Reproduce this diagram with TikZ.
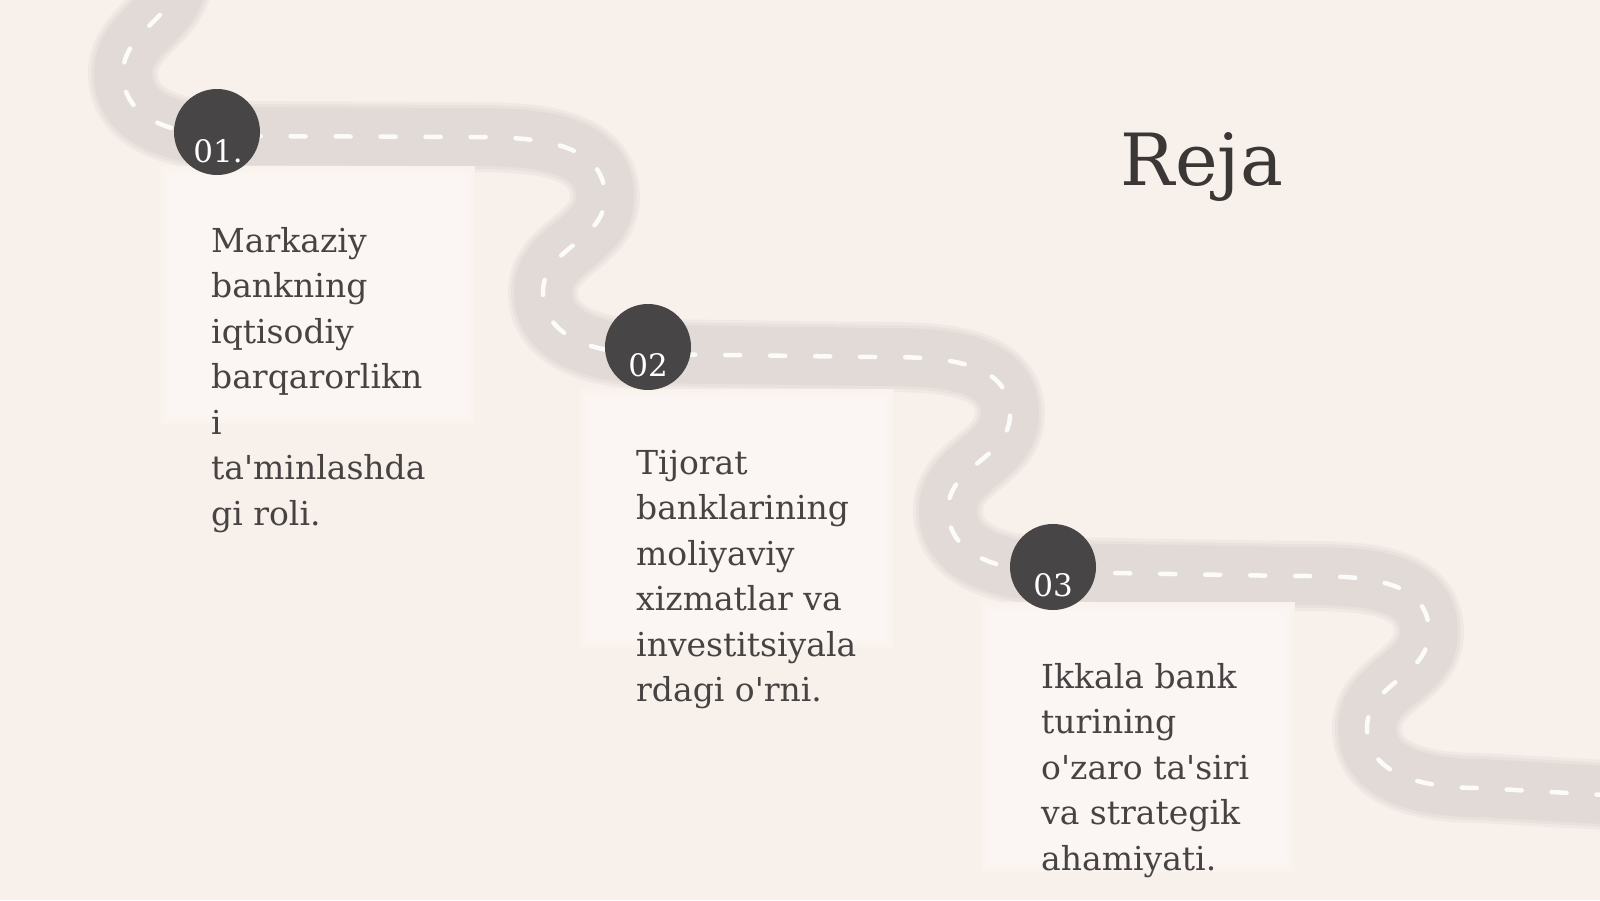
\documentclass[tikz,border=0pt]{standalone}
\usepackage{fontspec}
\newfontfamily\bodyfont[Ligatures=TeXOff]{DejaVu Serif}
\definecolor{bg}{HTML}{F8F0EB}
\definecolor{roadc}{HTML}{E2DAD6}
\definecolor{cardc}{HTML}{FBF6F3}
\definecolor{dotc}{HTML}{474545}
\definecolor{txt}{HTML}{474343}
\definecolor{ttl}{HTML}{3B3737}
\newcommand\roadline[1]{%
  \draw[#1] (178,-25) to[out=270,in=90] (123,74) to[out=270,in=180] (230,136)
    -- (470,137) to[out=0,in=90] (605,197) to[out=270,in=90] (543,292) to[out=270,in=180] (650,354)
    -- (875,357) to[out=0,in=90] (1010,414) to[out=270,in=90] (948,510) to[out=270,in=180] (1055,572)
    -- (1290,576) to[out=0,in=90] (1429,632) to[out=270,in=90] (1367,728) to[out=270,in=180] (1480,788)
    -- (1640,797);}
\newcommand\cardsoft[4]{%
  \foreach \d/\m in {0/30,3/60,6/85}{\fill[cardc!\m!bg] (#1+\d,#2+\d) rectangle (#3-\d,#4-\d);}}
\tikzset{
  cardbox/.style={fill=cardc, draw=none, inner sep=0pt, anchor=north west},
  dot/.style={circle, fill=dotc, minimum size=86pt, inner sep=0pt},
  numlbl/.style={font=\bodyfont\fontsize{31}{31}\selectfont, text=white, inner sep=0pt, anchor=base},
  body/.style={font=\bodyfont\fontsize{33}{45.5}\selectfont, text=txt, inner sep=0pt, anchor=base west},
  title/.style={font=\bodyfont\fontsize{72}{72}\selectfont, text=ttl, inner sep=0pt, anchor=base}
}
\begin{document}
\begin{tikzpicture}[x=1pt,y=-1pt]
\useasboundingbox (0,0) rectangle (1600,900);
\fill[bg] (0,0) rectangle (1600,900);
% road
\roadline{roadc!35!bg, line width=70pt}
\roadline{roadc!70!bg, line width=64pt}
\roadline{roadc, line width=58pt}
\roadline{white!88!roadc, line width=4.5pt, line cap=round, dash pattern=on 15pt off 30pt}
% cards
\cardsoft{160}{166}{475}{425}
\cardsoft{580}{389}{894}{649}
\cardsoft{981}{602}{1295}{872}
\node[cardbox, minimum width=297pt, minimum height=241pt] (card1) at (169,175) {};
\node[cardbox, minimum width=296pt, minimum height=242pt] (card2) at (589,398) {};
\node[cardbox, minimum width=296pt, minimum height=252pt] (card3) at (990,611) {};
% markers
\node[dot] (n1) at (217,132) {};
\node[dot] (n2) at (648,347) {};
\node[dot] (n3) at (1053,567) {};
\node[numlbl] (l1) at (218,162) {01.};
\node[numlbl] (l2) at (648,376) {02};
\node[numlbl] (l3) at (1053,596) {03};
% title
\node[title] (title) at (1202,185) {Reja};
% texts
\node[body] (t1) at (211,252) {\begin{tabular}[t]{@{}l@{}}Markaziy\\ bankning\\ iqtisodiy\\ barqarorlikn\\ i\\ ta'minlashda\\ gi roli.\end{tabular}};
\node[body] (t2) at (636,474) {\begin{tabular}[t]{@{}l@{}}Tijorat\\ banklarining\\ moliyaviy\\ xizmatlar va\\ investitsiyala\\ rdagi o'rni.\end{tabular}};
\node[body] (t3) at (1041,688) {\begin{tabular}[t]{@{}l@{}}Ikkala bank\\ turining\\ o'zaro ta'siri\\ va strategik\\ ahamiyati.\end{tabular}};
\end{tikzpicture}
\end{document}
